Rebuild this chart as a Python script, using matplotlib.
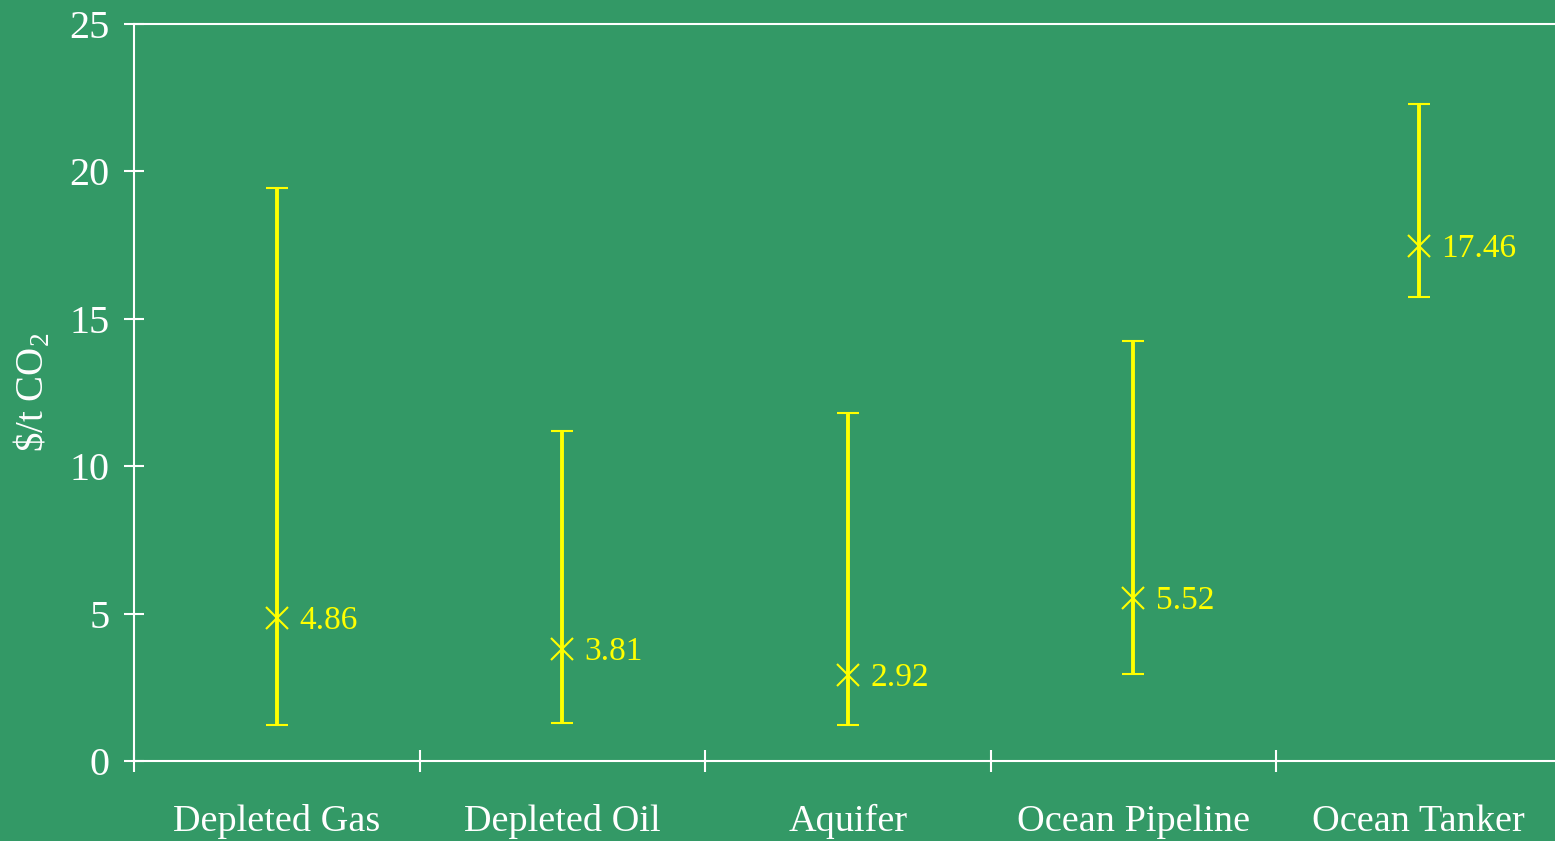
import numpy as np
import matplotlib.pyplot as plt

plt.rcParams['font.family'] = ['Liberation Serif', 'DejaVu Serif']
plt.rcParams['mathtext.fontset'] = 'custom'
plt.rcParams['mathtext.rm'] = 'Liberation Serif'

categories = ['Depleted Gas', 'Depleted Oil', 'Aquifer', 'Ocean Pipeline', 'Ocean Tanker']
mid = [4.86, 3.81, 2.92, 5.52, 17.46]
low = [1.22, 1.30, 1.22, 2.95, 15.74]
high = [19.44, 11.19, 11.80, 14.25, 22.29]

bg = '#339966'
yel = '#ffff00'

fig = plt.figure(figsize=(15.55, 8.41), dpi=100, facecolor=bg)
ax = fig.add_axes([134/1555, 80/841, 1421/1555, 737/841], facecolor=bg)

x = np.arange(len(categories))
mid_a = np.array(mid)
err = [mid_a - np.array(low), np.array(high) - mid_a]
ax.errorbar(x, mid, yerr=err, fmt='x', color=yel, ecolor=yel, elinewidth=2.8,
            capsize=8, capthick=2.8, markersize=16, markeredgewidth=1.5)

for xi, v in zip(x, mid):
    ax.annotate(f'{v:.2f}', (xi, v), xytext=(16, -2), textcoords='offset points',
                va='center', ha='left', color=yel, fontsize=24)

ax.set_yticks([0, 5, 10, 15, 20, 25])
ax.set_xticks(x)
ax.set_xticklabels(categories)
ax.set_xticks(np.arange(len(categories) + 1) - 0.5, minor=True)
# set the limits after the ticks, set_xticks widens them
ax.set_xlim(-0.5, 4.477)
ax.set_ylim(0, 25)

ax.tick_params(axis='y', direction='inout', length=15, width=1.5, colors='white',
               labelsize=29, pad=10)
ax.tick_params(axis='x', which='major', length=0, colors='white', labelsize=27.5, pad=31)
ax.tick_params(axis='x', which='minor', direction='inout', length=16, width=1.5, color='white')

for s in ['left', 'bottom', 'top']:
    ax.spines[s].set_color('white')
    ax.spines[s].set_linewidth(1.5)
ax.spines['right'].set_visible(False)

ax.set_ylabel(r'\$/t CO$_\mathrm{2}$', color='white', fontsize=28, labelpad=12)

fig.savefig('out.png', facecolor=bg)
